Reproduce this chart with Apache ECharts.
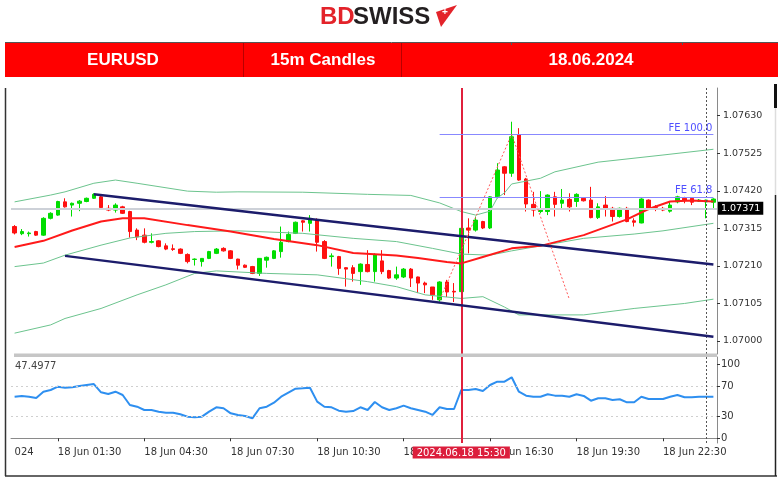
<!DOCTYPE html>
<html><head><meta charset="utf-8">
<script src="https://cdn.jsdelivr.net/npm/echarts@6/dist/echarts.min.js"></script>
<style>html,body{margin:0;padding:0;background:#fff}#c{width:780px;height:478px}</style>
</head><body><div id="c"></div>
<script>
// ---------- DATA ----------
const titleSymbol = 'EURUSD';
const titleFrame = '15m Candles';
const titleDate = '18.06.2024';
const rsiValueText = '47.4977';
const markerTimeText = '2024.06.18 15:30';

// 15-minute bars starting 18 Jun 00:00
const categories = [];
for (let i = 0; i < 98; i++) {
  const m = i * 15, d = 18 + Math.floor(m / 1440), mm = m % 1440;
  categories.push(d + ' Jun ' + String(Math.floor(mm / 60)).padStart(2, '0') + ':' + String(mm % 60).padStart(2, '0'));
}
const timeLabelIdx = [6, 18, 30, 42, 54, 66, 78, 90];
const priceTicks = [1.07000, 1.07105, 1.07210, 1.07315, 1.07420, 1.07525, 1.07630];
const rsiTicks = [0, 30, 70, 100];

// [open, close, low, high]
const ohlc = [
[1.07320,1.07302,1.07298,1.07324],[1.07300,1.07306,1.07296,1.07313],[1.07300,1.07302,1.07292,1.07306],[1.07306,1.07296,1.07294,1.07308],
[1.07296,1.07343,1.07294,1.07346],[1.07343,1.07357,1.07340,1.07360],[1.07352,1.07390,1.07350,1.07392],[1.07389,1.07375,1.07373,1.07399],
[1.07380,1.07385,1.07348,1.07387],[1.07385,1.07391,1.07363,1.07394],[1.07390,1.07399,1.07388,1.07401],[1.07399,1.07410,1.07397,1.07413],
[1.07403,1.07373,1.07371,1.07406],[1.07371,1.07366,1.07363,1.07380],[1.07366,1.07380,1.07359,1.07385],[1.07375,1.07357,1.07355,1.07378],
[1.07362,1.07306,1.07289,1.07364],[1.07310,1.07291,1.07282,1.07315],[1.07296,1.07276,1.07273,1.07315],[1.07276,1.07278,1.07273,1.07301],
[1.07280,1.07264,1.07262,1.07282],[1.07266,1.07257,1.07254,1.07273],[1.07258,1.07256,1.07252,1.07270],[1.07257,1.07245,1.07243,1.07259],
[1.07242,1.07222,1.07217,1.07245],[1.07228,1.07229,1.07211,1.07231],[1.07222,1.07231,1.07208,1.07232],[1.07231,1.07250,1.07229,1.07252],
[1.07245,1.07257,1.07243,1.07260],[1.07259,1.07252,1.07250,1.07262],[1.07252,1.07231,1.07229,1.07254],[1.07229,1.07212,1.07200,1.07230],
[1.07212,1.07206,1.07204,1.07214],[1.07208,1.07189,1.07187,1.07210],[1.07189,1.07231,1.07182,1.07232],[1.07226,1.07234,1.07205,1.07236],
[1.07231,1.07252,1.07229,1.07254],[1.07250,1.07276,1.07233,1.07320],[1.07278,1.07298,1.07276,1.07306],[1.07301,1.07332,1.07299,1.07334],
[1.07336,1.07332,1.07306,1.07338],[1.07329,1.07343,1.07306,1.07352],[1.07338,1.07276,1.07250,1.07343],[1.07278,1.07231,1.07229,1.07282],
[1.07236,1.07238,1.07208,1.07245],[1.07236,1.07203,1.07185,1.07238],[1.07205,1.07201,1.07152,1.07206],[1.07205,1.07189,1.07166,1.07212],
[1.07194,1.07215,1.07157,1.07217],[1.07214,1.07194,1.07192,1.07254],[1.07194,1.07242,1.07166,1.07245],[1.07224,1.07194,1.07187,1.07254],
[1.07197,1.07176,1.07174,1.07199],[1.07176,1.07185,1.07171,1.07208],[1.07179,1.07201,1.07176,1.07204],[1.07201,1.07176,1.07151,1.07204],
[1.07179,1.07162,1.07134,1.07180],[1.07162,1.07157,1.07134,1.07166],[1.07151,1.07129,1.07115,1.07151],[1.07115,1.07165,1.07110,1.07167],
[1.07165,1.07137,1.07123,1.07171],[1.07139,1.07137,1.07109,1.07162],[1.07138,1.07315,1.07136,1.07318],[1.07316,1.07310,1.07245,1.07343],
[1.07310,1.07338,1.07306,1.07348],[1.07334,1.07316,1.07313,1.07336],[1.07316,1.07403,1.07313,1.07405],[1.07403,1.07478,1.07399,1.07497],
[1.07487,1.07469,1.07408,1.07489],[1.07469,1.07571,1.07459,1.07613],[1.07576,1.07450,1.07448,1.07595],[1.07453,1.07383,1.07362,1.07456],
[1.07382,1.07366,1.07348,1.07417],[1.07362,1.07369,1.07357,1.07419],[1.07362,1.07408,1.07352,1.07410],[1.07403,1.07382,1.07348,1.07417],
[1.07385,1.07394,1.07371,1.07425],[1.07396,1.07375,1.07362,1.07413],[1.07390,1.07410,1.07375,1.07413],[1.07399,1.07392,1.07390,1.07401],
[1.07394,1.07345,1.07343,1.07431],[1.07345,1.07375,1.07341,1.07385],[1.07380,1.07371,1.07348,1.07405],[1.07371,1.07348,1.07334,1.07375],
[1.07348,1.07371,1.07345,1.07373],[1.07371,1.07334,1.07332,1.07375],[1.07336,1.07332,1.07320,1.07343],[1.07330,1.07397,1.07329,1.07399],
[1.07394,1.07369,1.07366,1.07396],[1.07373,1.07369,1.07363,1.07380],[1.07371,1.07366,1.07363,1.07375],[1.07363,1.07380,1.07359,1.07389],
[1.07389,1.07403,1.07385,1.07406],[1.07399,1.07394,1.07385,1.07403],[1.07399,1.07388,1.07380,1.07401],[1.07391,1.07394,1.07389,1.07397],
[1.07389,1.07394,1.07343,1.07395],[1.07388,1.07397,1.07371,1.07399]
];

const rsi = [56,57,56,54.2,62.7,65,69.5,68,68.6,70.4,71.7,73,61.9,59.6,62.7,58.3,44.8,42.5,38.1,38.1,
35.8,34.5,34.5,32.3,29.1,28.3,29.1,35.8,41.7,40.4,33.6,31.4,30,26.9,40.4,42.5,47.9,56,61.4,66.8,
67.3,68.1,49.3,42.5,41.7,37.2,35.8,36.7,41.7,38.1,48.9,41.7,38.1,40.4,43.9,40.4,38.1,35.8,31.4,41.7,
39.4,39.4,65,65,66.4,63.7,71.7,76.2,76.2,82.1,62.7,57.4,56,56,59.2,57.4,57.4,56,59.2,57,
50.6,53.8,53.8,51.5,52.5,48.4,48.4,56,52.9,52.9,52.9,56,58.3,55.2,55.2,56,56,56];

// [bar index, price]
const maLine = [[0,1.07263],[4,1.07280],[8,1.07309],[12,1.07334],[15,1.07343],[18,1.07343],[24,1.07324],[30,1.07306],[36,1.07285],[42,1.07268],[47,1.07246],[53,1.07239],[56,1.07232],[60,1.07221],[62,1.07217],[65,1.07235],[69,1.07259],[73,1.07266],[79,1.07296],[85,1.07340],[88,1.07369],[91,1.07390],[94,1.07393],[97,1.07390]];
const bbUpper = [[0,1.07389],[5,1.07408],[7,1.07417],[11,1.07441],[14,1.07450],[17,1.07441],[24,1.07419],[28,1.07416],[31,1.07417],[40,1.07416],[49,1.07410],[55,1.07407],[59,1.07386],[62,1.07362],[64,1.07352],[66,1.07363],[67,1.07400],[68,1.07414],[69,1.07439],[71,1.07447],[73,1.07455],[75,1.07473],[81,1.07500],[90,1.07520],[97,1.07536]];
const bbMiddle = [[0,1.07208],[4,1.07218],[7,1.07240],[12,1.07268],[16,1.07288],[21,1.07301],[25,1.07306],[31,1.07308],[40,1.07301],[47,1.07287],[53,1.07278],[58,1.07259],[62,1.07243],[66,1.07240],[69,1.07252],[73,1.07266],[79,1.07287],[86,1.07299],[90,1.07308],[97,1.07329]];
const bbLower = [[0,1.07022],[5,1.07045],[7,1.07063],[12,1.07091],[17,1.07129],[21,1.07157],[25,1.07189],[28,1.07196],[35,1.07189],[42,1.07185],[49,1.07166],[53,1.07152],[57,1.07129],[62,1.07119],[65,1.07124],[68,1.07095],[70,1.07073],[79,1.07073],[86,1.07091],[93,1.07105],[97,1.07117]];
const trendUpper = [[11,1.07410],[31,1.07364],[51,1.07318],[97,1.07214]];
const trendLower = [[7,1.07238],[97,1.07012]];
const feZigzag = [[59,1.07115],[69,1.07578],[77,1.07117]];
const feLevels = [{name:'FE 100.0', value:1.07578}, {name:'FE 61.8', value:1.07403}];
const feStart = 59, feEnd = 97;
const currentPrice = 1.07371;
const markerBar = 62;
const separatorBar = 96;

// ---------- CHART ----------
const F = 'DejaVu Sans';
const chart = echarts.init(document.getElementById('c'));
const showIdx = (i) => i === 0 || timeLabelIdx.indexOf(i) >= 0;
const tickIdx = (i) => timeLabelIdx.indexOf(i) >= 0;

const vLines = () => [
  {xAxis: markerBar, lineStyle:{color:'#e0203c', width:2, type:'solid'}, label:{show:false}},
  {xAxis: separatorBar, lineStyle:{color:'#555', width:1, type:[2,2]}, label:{show:false}}
];

const option = {
  animation: false,
  backgroundColor: '#fff',
  grid: [
    {left: 11, top: 88, width: 706, height: 266},
    {left: 11, top: 357, width: 706, height: 86}
  ],
  xAxis: [
    {type:'category', gridIndex:0, data:categories, show:false},
    {type:'category', gridIndex:1, data:categories,
     axisLine:{show:true, lineStyle:{color:'#8a8a8a', width:1}},
     axisTick:{show:true, alignWithLabel:true, interval:(i)=>tickIdx(i), length:3, lineStyle:{color:'#333'}},
     axisLabel:{interval:(i)=>showIdx(i), align:'left', fontFamily:F, fontSize:10, color:'#333', margin:4,
       formatter:(v, i)=> i === 0 ? '024' : v}}
  ],
  yAxis: [
    {type:'value', gridIndex:0, position:'right', min:1.069637, max:1.077073, scale:true,
     splitLine:{show:false},
     axisLine:{show:true, lineStyle:{color:'#8a8a8a'}},
     axisTick:{show:true, customValues:priceTicks, length:3, lineStyle:{color:'#333'}},
     axisLabel:{customValues:priceTicks, formatter:(v)=>v.toFixed(5), fontFamily:F, fontSize:9.5, color:'#333', margin:6}},
    {type:'value', gridIndex:1, position:'right', min:-6.33, max:109.4,
     splitLine:{show:false},
     axisLine:{show:true, lineStyle:{color:'#8a8a8a'}},
     axisTick:{show:true, customValues:rsiTicks, length:3, lineStyle:{color:'#333'}},
     axisLabel:{customValues:rsiTicks, fontFamily:F, fontSize:10, color:'#333', margin:4}}
  ],
  series: [
    {type:'line', name:'Bid', xAxisIndex:0, yAxisIndex:0, data:[], z:1,
     markLine:{silent:true, symbol:['none','none'], animation:false, precision:5,
       data:[
         {yAxis: currentPrice, lineStyle:{color:'#cdd1d8', width:2, type:'solid'},
          label:{show:true, position:'end', formatter: currentPrice.toFixed(5), backgroundColor:'#000', color:'#fff',
                 fontFamily:F, fontSize:9.5, padding:[2,3,1,3], distance:1}}
       ]}},
    {type:'candlestick', xAxisIndex:0, yAxisIndex:0, data:ohlc, barWidth:4, z:2,
     itemStyle:{color:'#00dd00', color0:'#ff1010', borderColor:'#00dd00', borderColor0:'#ff1010', borderWidth:1},
     markLine:{silent:true, symbol:['none','none'], animation:false, precision:5,
       data:[
         ...vLines(),
         ...feLevels.map(f => [
           {coord:[feStart, f.value], lineStyle:{color:'#8888ff', width:1, type:'solid'},
            label:{show:true, position:'insideEndTop', formatter:f.name, color:'#5050ff', fontFamily:F, fontSize:10, distance:1}},
           {coord:[feEnd, f.value]}
         ])
       ]}
    },
    {type:'line', name:'BB upper', xAxisIndex:0, yAxisIndex:0, data:bbUpper, showSymbol:false, z:3,
     lineStyle:{color:'#6cc48e', width:1}},
    {type:'line', name:'BB middle', xAxisIndex:0, yAxisIndex:0, data:bbMiddle, showSymbol:false, z:3,
     lineStyle:{color:'#6cc48e', width:1}},
    {type:'line', name:'BB lower', xAxisIndex:0, yAxisIndex:0, data:bbLower, showSymbol:false, z:3,
     lineStyle:{color:'#6cc48e', width:1}},
    {type:'line', name:'MA', xAxisIndex:0, yAxisIndex:0, data:maLine, showSymbol:false, z:4,
     lineStyle:{color:'#ff1a1a', width:2}},
    {type:'line', name:'Trend upper', xAxisIndex:0, yAxisIndex:0, z:5,
     data: trendUpper.map((p, k) => ({value:p, symbol: k < trendUpper.length - 1 ? 'rect' : 'none'})),
     symbol:'rect', symbolSize:[6,5], showSymbol:true,
     itemStyle:{color:'#3a3a80', borderColor:'#1a1a60', borderWidth:1},
     lineStyle:{color:'#1c1c6b', width:2.5}},
    {type:'line', name:'Trend lower', xAxisIndex:0, yAxisIndex:0, data:trendLower, showSymbol:false, z:5,
     lineStyle:{color:'#1c1c6b', width:2.5}},
    {type:'line', name:'FE', xAxisIndex:0, yAxisIndex:0, data:feZigzag, showSymbol:false, z:5,
     lineStyle:{color:'#ff5a5a', width:1, type:[2,2]}},
    {type:'line', name:'RSI', xAxisIndex:1, yAxisIndex:1, data:rsi, showSymbol:false, z:3,
     lineStyle:{color:'#2e8ff0', width:2},
     markLine:{silent:true, symbol:['none','none'], animation:false, label:{show:false},
       data:[
         {yAxis:70, lineStyle:{color:'#cfcfcf', width:1, type:[2,3]}},
         {yAxis:30, lineStyle:{color:'#cfcfcf', width:1, type:[2,3]}},
         ...vLines()
       ]}
    }
  ]
};
chart.setOption(option);

const mx = chart.convertToPixel({xAxisIndex:1}, markerBar);
const rsiTop = chart.convertToPixel({yAxisIndex:1}, 109.4);

const graphics = [
  // logo
  {type:'text', z:50, style:{text:'BD', x:320, y:17, font:'bold 24px "Liberation Sans"', fill:'#e3232a', verticalAlign:'middle'}},
  {type:'text', z:50, style:{text:'SWISS', x:353, y:17, font:'bold 24px "Liberation Sans"', fill:'#231f20', verticalAlign:'middle'}},
  {type:'polygon', z:50, shape:{points:[[436,12],[457,5],[441,27]]}, style:{fill:'#e3232a'}},
  {type:'text', z:51, style:{text:'+', x:445, y:12, font:'bold 10px "Liberation Sans"', fill:'#fff', align:'center', verticalAlign:'middle'}},
  // header bar
  {type:'line', z:50, shape:{x1:5, y1:42.5, x2:778, y2:42.5}, style:{stroke:'#555', lineWidth:1}},
  {type:'rect', z:50, shape:{x:5, y:43, width:773, height:34}, style:{fill:'#ff0000'}},
  {type:'line', z:51, shape:{x1:243.5, y1:43, x2:243.5, y2:77}, style:{stroke:'#b80000', lineWidth:1}},
  {type:'line', z:51, shape:{x1:401.5, y1:43, x2:401.5, y2:77}, style:{stroke:'#b80000', lineWidth:1}},
  {type:'line', z:51, shape:{x1:511.5, y1:42, x2:511.5, y2:45}, style:{stroke:'#555', lineWidth:1}},
  {type:'line', z:51, shape:{x1:682.5, y1:42, x2:682.5, y2:45}, style:{stroke:'#555', lineWidth:1}},
  {type:'text', z:52, style:{text:titleSymbol, x:123, y:60, font:'bold 17px "Liberation Sans"', fill:'#fff', align:'center', verticalAlign:'middle'}},
  {type:'text', z:52, style:{text:titleFrame, x:323, y:60, font:'bold 17px "Liberation Sans"', fill:'#fff', align:'center', verticalAlign:'middle'}},
  {type:'text', z:52, style:{text:titleDate, x:591, y:60, font:'bold 17px "Liberation Sans"', fill:'#fff', align:'center', verticalAlign:'middle'}},
  // frame
  {type:'line', z:50, shape:{x1:5.5, y1:88, x2:5.5, y2:476}, style:{stroke:'#333', lineWidth:1.5}},
  {type:'line', z:50, shape:{x1:5, y1:476, x2:777, y2:476}, style:{stroke:'#333', lineWidth:1.5}},
  {type:'line', z:50, shape:{x1:775.5, y1:84, x2:775.5, y2:108}, style:{stroke:'#111', lineWidth:3}},
  {type:'line', z:50, shape:{x1:775.5, y1:108, x2:775.5, y2:195}, style:{stroke:'#ddd', lineWidth:1.5}},
  {type:'line', z:50, shape:{x1:775.5, y1:195, x2:775.5, y2:476}, style:{stroke:'#222', lineWidth:1.5}},
  // pane separator
  {type:'rect', z:40, shape:{x:14, y:353.5, width:703, height:3.5}, style:{fill:'#c6c6c6'}},
  // RSI value text
  {type:'text', z:50, style:{text:rsiValueText, x:15, y:rsiTop + 9, font:'10px "DejaVu Sans"', fill:'#444', verticalAlign:'middle'}},
  // time marker box
  {type:'text', z:60, style:{text:markerTimeText, x:mx, y:446.5, font:'10px "DejaVu Sans"', fill:'#fff',
     backgroundColor:'#dc1e3c', padding:[1,4,0,4], align:'center', verticalAlign:'top', lineHeight:11}}
];
chart.setOption({graphic: graphics});
</script>
</body></html>
